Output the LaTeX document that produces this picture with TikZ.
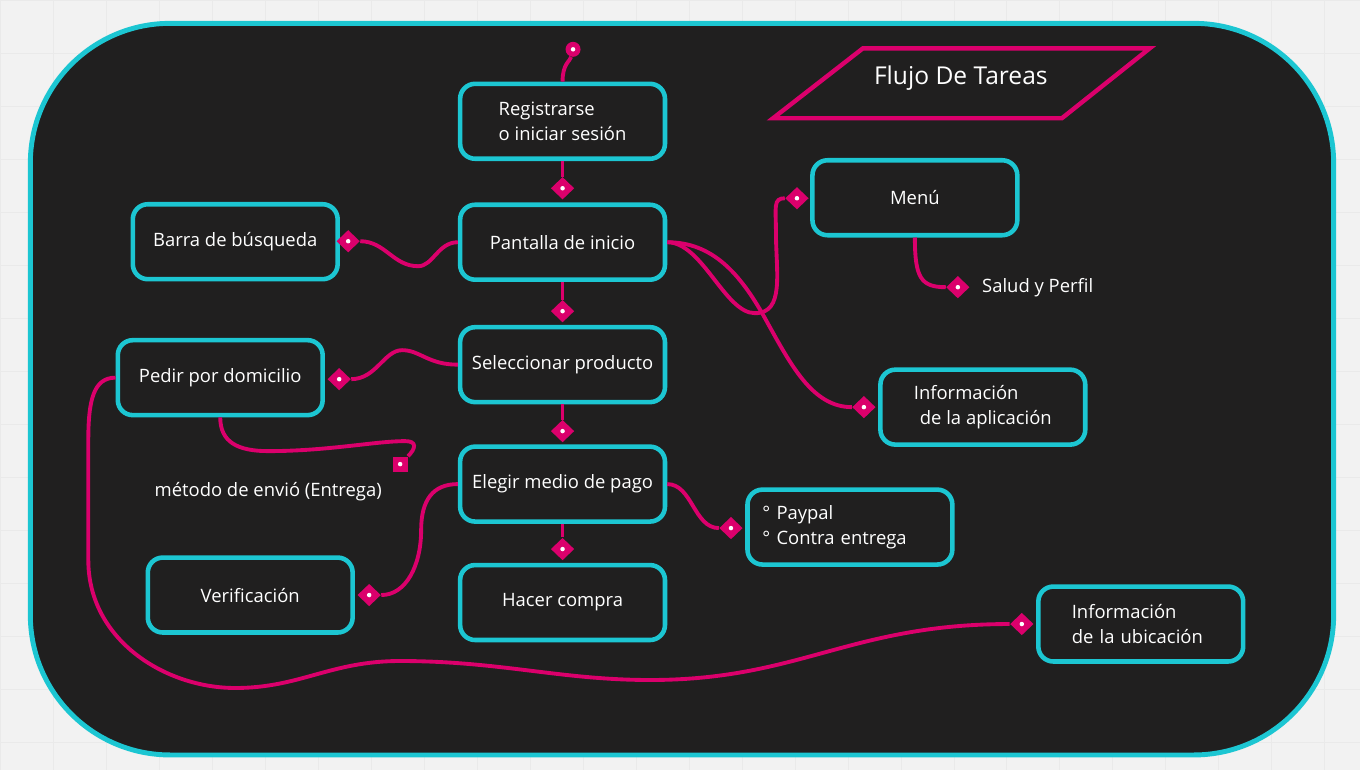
\documentclass[tikz,border=0pt]{standalone}
\usepackage{fontspec}
\setmainfont{Open Sans}
\usepackage{xcolor}
\usepackage{tikz}
\usetikzlibrary{shapes.geometric}
\definecolor{fondo}{HTML}{201F1F}
\definecolor{cian}{HTML}{1CC6D2}
\definecolor{rosa}{HTML}{DB006C}
\definecolor{papel}{HTML}{F2F2F2}
\definecolor{rejilla}{HTML}{EAEAEA}
\tikzset{
	tarea/.style={draw=cian,line width=2.6pt,rounded corners=0.3cm,minimum width=4.1cm,minimum height=1.5cm,text=white,font=\fontsize{10.5}{14}\selectfont},
	etiqueta/.style={text=white,font=\fontsize{10.5}{14}\selectfont},
	enlace/.style={draw=rosa,line width=2.2pt},
	punto/.style={fill=rosa,inner sep=0pt,path picture={\fill[white] (path picture bounding box.center) circle (0.045cm);}},
	rombo/.style={punto,diamond,minimum width=0.47cm,minimum height=0.45cm},
}

\begin{document}
\begin{tikzpicture}[x=0.02cm,y=-0.02cm]
	\fill[papel] (0,0) rectangle (1360,770);
	\foreach \g in {0,53,...,1360} \draw[rejilla,line width=0.4pt] (\g,0)--(\g,770);
	\foreach \g in {0,53,...,770} \draw[rejilla,line width=0.4pt] (0,\g)--(1360,\g);
	\draw[cian,line width=2.8pt,fill=fondo,rounded corners=2.8cm] (30,23) rectangle (1334,755);

	\node[text=white,font=\fontsize{14}{16}\selectfont] (titulo) at (961,78) {Flujo De Tareas};
	\draw[rosa,line width=2.5pt] (773,118)--(1062,118)--(1150,48)--(863,48)--cycle;

	\node[tarea,align=left] (registro) at (562.5,121) {Registrarse\\o iniciar sesión};
	\node[tarea] (inicio) at (562.5,242) {Pantalla de inicio};
	\node[tarea] (producto) at (562.5,364.5) {Seleccionar producto};
	\node[tarea] (pago) at (562.5,484) {Elegir medio de pago};
	\node[tarea] (compra) at (562.5,602.5) {Hacer compra};
	\node[tarea] (busqueda) at (235,241.5) {Barra de búsqueda};
	\node[tarea] (domicilio) at (220,377.5) {Pedir por domicilio};
	\node[tarea] (verificacion) at (250,595) {Verificación};
	\node[tarea] (menu) at (915,197.5) {Menú};
	\node[tarea,align=left] (aplicacion) at (983,407) {Información\\\hspace*{0.12cm}de la aplicación};
	\node[tarea,align=left,text width=3.5cm] (medios) at (850,527) {° Paypal\\° Contra entrega};
	\node[tarea,align=left,text width=2.76cm] (ubicacion) at (1141,624) {Información\\de la ubicación};
	\node[etiqueta,anchor=west,inner sep=0pt] (salud) at (982,287) {Salud y Perfil};
	\node[etiqueta] (envio) at (268,492) {método de envió (Entrega)};

	\node[punto,circle,minimum size=0.3cm] (arranque) at (573,49) {};
	\node[rombo] (r1) at (562.5,188) {};
	\node[rombo] (r2) at (562.5,311) {};
	\node[rombo] (r3) at (562.5,431) {};
	\node[rombo] (r4) at (562.5,549) {};
	\node[rombo] (rBusqueda) at (348,241) {};
	\node[rombo] (rDomicilio) at (339,379) {};
	\node[punto,minimum size=0.3cm] (cuadro) at (400,464) {};
	\node[rombo] (rVerif) at (369,595) {};
	\node[rombo] (rPagos) at (731,528) {};
	\node[rombo] (rMenu) at (797,198) {};
	\node[rombo] (rAplic) at (864,407) {};
	\node[rombo] (rSalud) at (958,287) {};
	\node[rombo] (rUbic) at (1022,624) {};

	\draw[enlace] (registro.north) .. controls +(0,-18) and +(-3,12) .. (arranque);
	\draw[enlace] (registro) -- (r1);
	\draw[enlace] (inicio) -- (r2);
	\draw[enlace] (producto) -- (r3);
	\draw[enlace] (pago) -- (r4);
	\draw[enlace] (inicio.west) .. controls +(-20,0) and +(15,0) .. (418,266) .. controls +(-25,0) and +(25,0) .. (rBusqueda.east);
	\draw[enlace] (producto.west) .. controls +(-30,0) and +(18,0) .. (402,350) .. controls +(-18,0) and +(25,0) .. (rDomicilio.east);
	\draw[enlace] (domicilio.south) .. controls +(0,25) and +(-30,0) .. (268,451) .. controls +(60,0) and +(-30,0) .. (405,441) .. controls +(12,0) and +(8,-8) .. (cuadro.north east);
	\draw[enlace] (pago.west) .. controls +(-25,0) and +(0,-30) .. (421,530) .. controls +(0,35) and +(25,0) .. (rVerif.east);
	\draw[enlace] (pago.east) .. controls +(25,0) and +(-25,0) .. (rPagos.west);
	\draw[enlace] (inicio.east) .. controls +(35,0) and +(-30,0) .. (755,313) .. controls +(30,0) and +(0,40) .. (776,232) .. controls +(0,-25) and +(-12,0) .. (rMenu.west);
	\draw[enlace] (inicio.east) .. controls +(45,0) and +(-25,-45) .. (765,318) .. controls +(25,45) and +(-40,0) .. (rAplic.west);
	\draw[enlace] (menu.south) .. controls +(0,40) and +(-25,0) .. (rSalud.west);
	\draw[enlace] (domicilio.west) .. controls +(-22,0) and +(0,-40) .. (88,440) -- (88,560) .. controls +(0,80) and +(-70,0) .. (235,688) .. controls +(65,0) and +(-70,0) .. (400,661) .. controls +(100,0) and +(-90,0) .. (650,680) .. controls +(150,0) and +(-160,0) .. (rUbic.west);
\end{tikzpicture}
\end{document}
